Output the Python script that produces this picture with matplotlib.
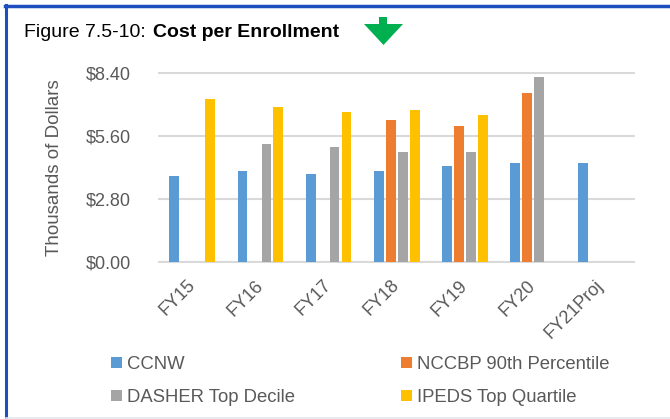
import numpy as np
import matplotlib
matplotlib.use("Agg")
import matplotlib.pyplot as plt
from matplotlib.patches import Patch, Polygon
from matplotlib.lines import Line2D

plt.rcParams['font.family'] = ['Liberation Sans', 'DejaVu Sans']

# Cost per enrollment, thousands of dollars
years = ["FY15", "FY16", "FY17", "FY18", "FY19", "FY20", "FY21Proj"]
ccnw = [3.82, 4.06, 3.94, 4.06, 4.29, 4.41, 4.41]
nccbp = [np.nan, np.nan, np.nan, 6.31, 6.07, 7.51, np.nan]
dasher = [np.nan, 5.24, 5.12, 4.89, 4.89, 8.22, np.nan]
ipeds = [7.26, 6.90, 6.67, 6.78, 6.55, np.nan, np.nan]

series = [("CCNW", ccnw, "#5B9BD5"),
          ("NCCBP 90th Percentile", nccbp, "#ED7D31"),
          ("DASHER Top Decile", dasher, "#A5A5A5"),
          ("IPEDS Top Quartile", ipeds, "#FFC000")]

W, H = 670, 419
fig = plt.figure(figsize=(W / 100, H / 100), dpi=100)

# axes placed in pixel terms
left, right, top, bottom = 158.3, 635, 72.2, 263.4
ax = fig.add_axes([left / W, 1 - bottom / H, (right - left) / W, (bottom - top) / H])

x = np.arange(len(years))
step = 0.176
width = 0.145
for i, (name, vals, col) in enumerate(series):
    ax.bar(x + (i - 1.5) * step, vals, width, color=col, label=name, zorder=3)

ax.set_xlim(-0.5, len(years) - 0.5)
ax.set_ylim(-0.05, 8.45)
ax.set_yticks([0, 2.8, 5.6, 8.4])
ax.set_yticklabels(["$0.00", "$2.80", "$5.60", "$8.40"])
ax.set_xticks(x)
ax.set_xticklabels(years, rotation=45, ha="right", va="center", rotation_mode="anchor")

ax.grid(axis="y", color="#D9D9D9", linewidth=1.5, zorder=0)
ax.set_axisbelow(True)
for s in ax.spines.values():
    s.set_visible(False)

ax.tick_params(axis="y", length=0, pad=19.5, labelsize=13, labelcolor="#595959")
ax.tick_params(axis="x", length=0, pad=14, labelsize=13, labelcolor="#595959")

ax.set_ylabel("Thousands of Dollars", fontsize=13.5, color="#595959")
ax.yaxis.set_label_coords((63 - left) / (right - left), 0.5)

# title, regular part then bold part
fig.text(24 / W, 1 - 37.3 / H, "Figure 7.5-10: ", fontsize=14, color="black", va="baseline")
fig.text(153 / W, 1 - 37.3 / H, "Cost per Enrollment", fontsize=14, fontweight="bold",
         color="black", va="baseline")

# green down arrow next to the title
arrow = [(379, 17), (387, 17), (387, 24), (403, 24), (383.5, 45), (364, 24), (379, 24)]
fig.add_artist(Polygon([(px / W, 1 - py / H) for px, py in arrow], closed=True,
                       facecolor="#00B050", edgecolor="none", transform=fig.transFigure))

# frame lines
fig.add_artist(Line2D([5 / W, 1], [1 - 6.5 / H, 1 - 6.5 / H], color="#1F4FBF", linewidth=2.5,
                      transform=fig.transFigure))
fig.add_artist(Line2D([6 / W, 6 / W], [1 - 5 / H, 1 - 417 / H], color="#1F4FBF", linewidth=2.2,
                      transform=fig.transFigure))
fig.add_artist(Line2D([6 / W, 1], [1 - 418 / H, 1 - 418 / H], color="#E4E6EE", linewidth=1.2,
                      transform=fig.transFigure))

handles = [Patch(facecolor=c, label=n) for n, v, c in series]
order = [0, 2, 1, 3]
fig.legend([handles[i] for i in order], [series[i][0] for i in order],
           loc="upper left", bbox_to_anchor=(111 / W, 1 - 356 / H), ncol=2,
           frameon=False, borderpad=0, borderaxespad=0, fontsize=13.3,
           handlelength=0.6, handleheight=0.6, handletextpad=0.28,
           columnspacing=5.7, labelspacing=0.86, labelcolor="#595959")

fig.savefig("out.png", dpi=100)
